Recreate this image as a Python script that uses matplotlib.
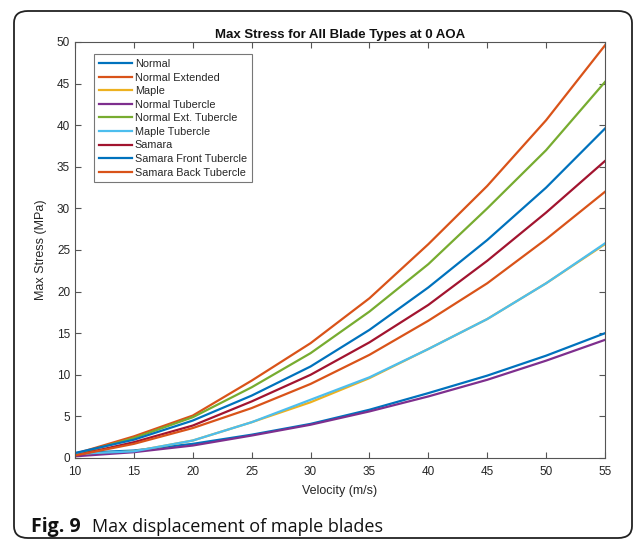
import matplotlib
matplotlib.use("Agg")
import matplotlib.pyplot as plt
from matplotlib.patches import FancyBboxPatch
import numpy as np

#  Data
# ******************************
velocity = [10, 15, 20, 25, 30, 35, 40, 45, 50, 55]

normal = [0.6, 0.9, 1.7, 2.8, 4.1, 5.8, 7.8, 9.9, 12.3, 15.0]
normal_ext = [0.5, 2.6, 5.1, 9.3, 13.8, 19.2, 25.7, 32.7, 40.6, 49.6]
maple = [0.4, 0.8, 2.1, 4.3, 6.7, 9.6, 13.1, 16.7, 21.0, 25.7]
normal_tub = [0.2, 0.7, 1.5, 2.7, 4.0, 5.6, 7.4, 9.4, 11.7, 14.2]
normal_ext_tub = [0.4, 2.4, 4.9, 8.5, 12.6, 17.6, 23.3, 30.0, 37.0, 45.2]
maple_tub = [0.5, 0.8, 2.1, 4.3, 7.0, 9.7, 13.1, 16.7, 21.0, 25.8]
samara = [0.3, 1.9, 3.9, 6.8, 10.0, 13.9, 18.4, 23.7, 29.5, 35.7]
samara_front = [0.6, 2.2, 4.5, 7.5, 11.0, 15.4, 20.5, 26.2, 32.5, 39.6]
samara_back = [0.3, 1.7, 3.6, 6.0, 8.9, 12.4, 16.5, 21.0, 26.3, 32.0]

series = [normal, normal_ext, maple, normal_tub, normal_ext_tub,
          maple_tub, samara, samara_front, samara_back]
labels = ["Normal", "Normal Extended", "Maple", "Normal Tubercle",
          "Normal Ext. Tubercle", "Maple Tubercle", "Samara",
          "Samara Front Tubercle", "Samara Back Tubercle"]
colors = ["#0072BD", "#D95319", "#EDB120", "#7E2F8E", "#77AC30",
          "#4DBEEE", "#A2142F", "#0072BD", "#D95319"]

#  Plot
# *****
plt.rcParams["font.family"] = ["Liberation Sans", "DejaVu Sans"]
W, H = 635, 540
fig = plt.figure(figsize=(W / 100, H / 100), dpi=100)

# journal frame around the figure
frame = FancyBboxPatch((14 / W, 1 - 538 / H), (632 - 14) / W, (538 - 11) / H,
                       boxstyle="round,pad=0,rounding_size=0.022",
                       transform=fig.transFigure, fill=False,
                       edgecolor="#222222", linewidth=1.3)
fig.patches.append(frame)

ax = fig.add_axes([75 / W, 1 - 458 / H, (605 - 75) / W, (458 - 42) / H])
for y, lab, c in zip(series, labels, colors):
    ax.plot(velocity, y, color=c, linewidth=1.6, label=lab)

grey = "#262626"
ax.set_xlim(10, 55)
ax.set_ylim(0, 50)
ax.set_xticks(np.arange(10, 56, 5))
ax.set_yticks(np.arange(0, 51, 5))
ax.tick_params(direction="in", top=True, right=True, length=4, width=0.8,
               labelsize=8.5, colors="#555555", labelcolor=grey)
ax.tick_params(axis="x", pad=6)
for sp in ax.spines.values():
    sp.set_color("#555555")
    sp.set_linewidth(0.8)

ax.set_title("Max Stress for All Blade Types at 0 AOA", fontsize=9.5,
             fontweight="bold", color="#111111", pad=3)
ax.set_xlabel("Velocity (m/s)", fontsize=9, color=grey, labelpad=5)
ax.set_ylabel("Max Stress (MPa)", fontsize=9, color=grey, labelpad=7)

leg = ax.legend(loc="upper left", bbox_to_anchor=(0.026, 0.984), fontsize=7.8,
                handlelength=3.0, handletextpad=0.3, labelspacing=0.33,
                borderpad=0.45, frameon=True, fancybox=False)
leg.get_frame().set_edgecolor("#555555")
leg.get_frame().set_linewidth(0.8)
for t in leg.get_texts():
    t.set_color(grey)

# caption
fig.text(31 / W, 1 - 527 / H, "Fig. 9", fontsize=14, fontweight="bold",
         family=["Open Sans", "DejaVu Sans"], va="center", color="#111111")
fig.text(92 / W, 1 - 527 / H, "Max displacement of maple blades", fontsize=13,
         family=["Open Sans", "DejaVu Sans"], va="center", color="#111111")

fig.savefig("out.png", dpi=100)
